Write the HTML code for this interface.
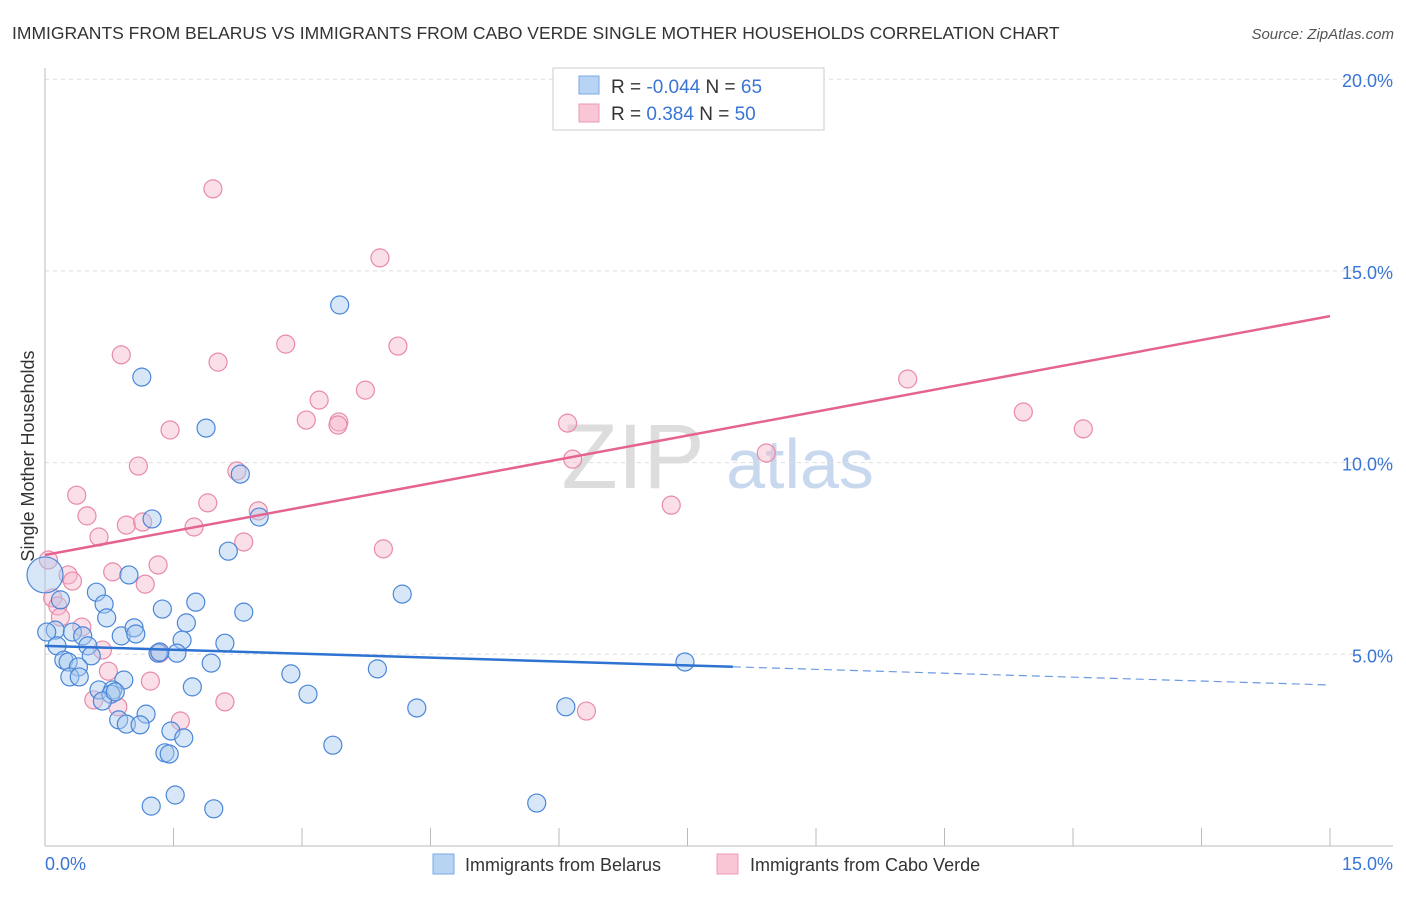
<!DOCTYPE html>
<html><head><meta charset="utf-8"><style>
body{margin:0;background:#fff;font-family:"Liberation Sans",sans-serif}
svg text{font-family:"Liberation Sans",sans-serif}
</style></head><body>
<svg id="c" width="1406" height="892">
<text x="12" y="39" font-size="17.5" fill="#333">IMMIGRANTS FROM BELARUS VS IMMIGRANTS FROM CABO VERDE SINGLE MOTHER HOUSEHOLDS CORRELATION CHART</text>
<text x="1394" y="39" font-size="15" fill="#555" font-style="italic" text-anchor="end">Source: ZipAtlas.com</text>
<text x="633" y="488" font-size="92" fill="#ddd" font-family="Liberation Serif" text-anchor="middle">ZIP</text>
<text x="800" y="488" font-size="70" fill="#c8d8ee" text-anchor="middle">atlas</text>
<text transform="translate(34,456) rotate(-90)" font-size="18" fill="#333" text-anchor="middle">Single Mother Households</text>
<g id="grid"></g><g id="marks"></g>
<g>
<rect x="553" y="68" width="271" height="62" fill="#fff" stroke="#ccc"/>
<rect x="579" y="76" width="20" height="18" fill="#b8d4f5" stroke="#7aa9e6"/>
<rect x="579" y="104" width="20" height="18" fill="#f9c6d6" stroke="#ec9ab4"/>
<text x="611" y="93" font-size="19" fill="#333">R = <tspan fill="#3a74d4">-0.044</tspan>    N = <tspan fill="#3a74d4">65</tspan></text>
<text x="611" y="120" font-size="19" fill="#333">R =   <tspan fill="#3a74d4">0.384</tspan>    N = <tspan fill="#3a74d4">50</tspan></text>
</g>
<g>
<rect x="433" y="854" width="21" height="20" fill="#b8d4f5" stroke="#7aa9e6"/>
<text x="465" y="871" font-size="18" fill="#333">Immigrants from Belarus</text>
<rect x="717" y="854" width="21" height="20" fill="#f9c6d6" stroke="#ec9ab4"/>
<text x="750" y="871" font-size="18" fill="#333">Immigrants from Cabo Verde</text>
</g>
</svg>
<script>
const yTicks=[5,10,15,20];
const xTickLabels=["0.0%","15.0%"];
const belarusX=[3.44,1.13,1.88,2.28,1.25,2.50,2.14,0.98,0.60,0.69,4.17,1.76,1.37,2.32,0.72,1.65,0.12,0.02,0.32,0.44,0.89,1.04,1.06,1.60,2.10,0.14,0.50,1.32,1.54,1.34,0.54,0.22,0.27,1.94,0.39,2.87,3.88,7.47,0.29,0.40,0.92,0.63,0.79,0.77,1.72,3.07,0.67,4.34,6.08,1.18,0.86,0.95,1.11,1.47,1.62,3.36,1.40,1.45,1.52,1.24,1.97,5.74,0.18,0.82,0.0];
const belarusY=[14.11,12.23,10.90,9.70,8.53,8.58,7.69,7.07,6.62,6.31,6.57,6.36,6.18,6.10,5.95,5.82,5.63,5.58,5.58,5.48,5.48,5.69,5.53,5.37,5.29,5.22,5.22,5.03,5.03,5.06,4.96,4.85,4.80,4.77,4.67,4.49,4.62,4.80,4.41,4.41,4.33,4.07,4.07,3.96,4.15,3.96,3.78,3.60,3.63,3.44,3.29,3.18,3.16,3.00,2.82,2.63,2.43,2.40,1.33,1.04,0.97,1.12,6.42,4.02,7.07];
const caboX=[1.96,3.91,0.89,2.81,4.12,2.02,10.07,3.20,3.74,11.42,3.05,3.43,3.42,1.46,12.12,6.10,1.09,2.24,6.16,8.42,0.37,1.90,0.49,2.49,7.31,0.95,1.14,1.74,0.63,2.32,3.95,1.32,0.79,0.27,0.32,1.17,0.09,0.15,0.18,0.43,0.67,1.34,0.74,1.23,0.57,2.10,0.85,1.58,6.32,0.04];
const caboY=[17.14,15.34,12.81,13.09,13.04,12.62,12.18,11.63,11.89,11.32,11.11,11.06,10.98,10.85,10.88,11.03,9.91,9.78,10.09,10.25,9.15,8.95,8.61,8.74,8.89,8.37,8.45,8.32,8.06,7.93,7.75,7.33,7.15,7.07,6.91,6.83,6.47,6.26,5.97,5.71,5.11,5.03,4.56,4.30,3.81,3.76,3.63,3.26,3.52,7.46];
const belarusTrend=[5.22,4.20];
const belarusSolidEnd=8.03;
const caboTrend=[7.59,13.82];
const X0=45,X1=1330,Y0=846,PX=191.7/5;
const sx=v=>X0+(X1-X0)*v/15, sy=v=>Y0-v*PX;
const NS="http://www.w3.org/2000/svg";
function mk(p,t,a){const e=document.createElementNS(NS,t);for(const k in a)e.setAttribute(k,a[k]);p.appendChild(e);return e;}
const g=document.getElementById('grid'),m=document.getElementById('marks');
yTicks.forEach(v=>{
 const l=mk(g,'line',{x1:X0,x2:1393,y1:sy(v),y2:sy(v),stroke:'#ddd','stroke-dasharray':'4,4'});
 
 
 const t=mk(g,'text',{x:1393,y:sy(v)+8,'font-size':18,fill:'#3a74d4','text-anchor':'end'});
 t.textContent=v.toFixed(1)+'%';
 
 
});
mk(g,'line',{x1:X0,x2:X0,y1:68,y2:846,stroke:'#bbb'});
mk(g,'line',{x1:X0,x2:1393,y1:846,y2:846,stroke:'#bbb'});
for(let i=0;i<=10;i++){const x=sx(i*1.5);const tk=mk(g,'line',{x1:x,x2:x,y1:828,y2:846,stroke:'#bbb'});
 
 }
[[0,X0,'start'],[15,1393,'end']].forEach((d,i)=>{const t=mk(g,'text',{x:d[1],y:870,'font-size':18,fill:'#3a74d4','text-anchor':d[2]});t.textContent=xTickLabels[i];
 
 });
function pts(X,Y,f,s,name){X.forEach((x,i)=>{const c=mk(m,'circle',{cx:sx(x),cy:sy(Y[i]),r:(i===X.length-1&&name==='belarus-point')?18:9,fill:f,'fill-opacity':0.45,stroke:s,'stroke-width':1.2});
 
 });}
pts(caboX,caboY,'#f7b8cb','#e88aa8','cabo-verde-point');
pts(belarusX,belarusY,'#a9c9f0','#4a86d8','belarus-point');
const bt=v=>belarusTrend[0]+(belarusTrend[1]-belarusTrend[0])*v/15;
let l=mk(m,'line',{x1:sx(0),y1:sy(bt(0)),x2:sx(belarusSolidEnd),y2:sy(bt(belarusSolidEnd)),stroke:'#2e72d2','stroke-width':2.5});


l=mk(m,'line',{x1:sx(belarusSolidEnd),y1:sy(bt(belarusSolidEnd)),x2:sx(15),y2:sy(bt(15)),stroke:'#6a9ae0','stroke-width':1.2,'stroke-dasharray':'8,5'});


l=mk(m,'line',{x1:sx(0),y1:sy(caboTrend[0]),x2:sx(15),y2:sy(caboTrend[1]),stroke:'#e4648f','stroke-width':2.5});


</script>
</body></html>
